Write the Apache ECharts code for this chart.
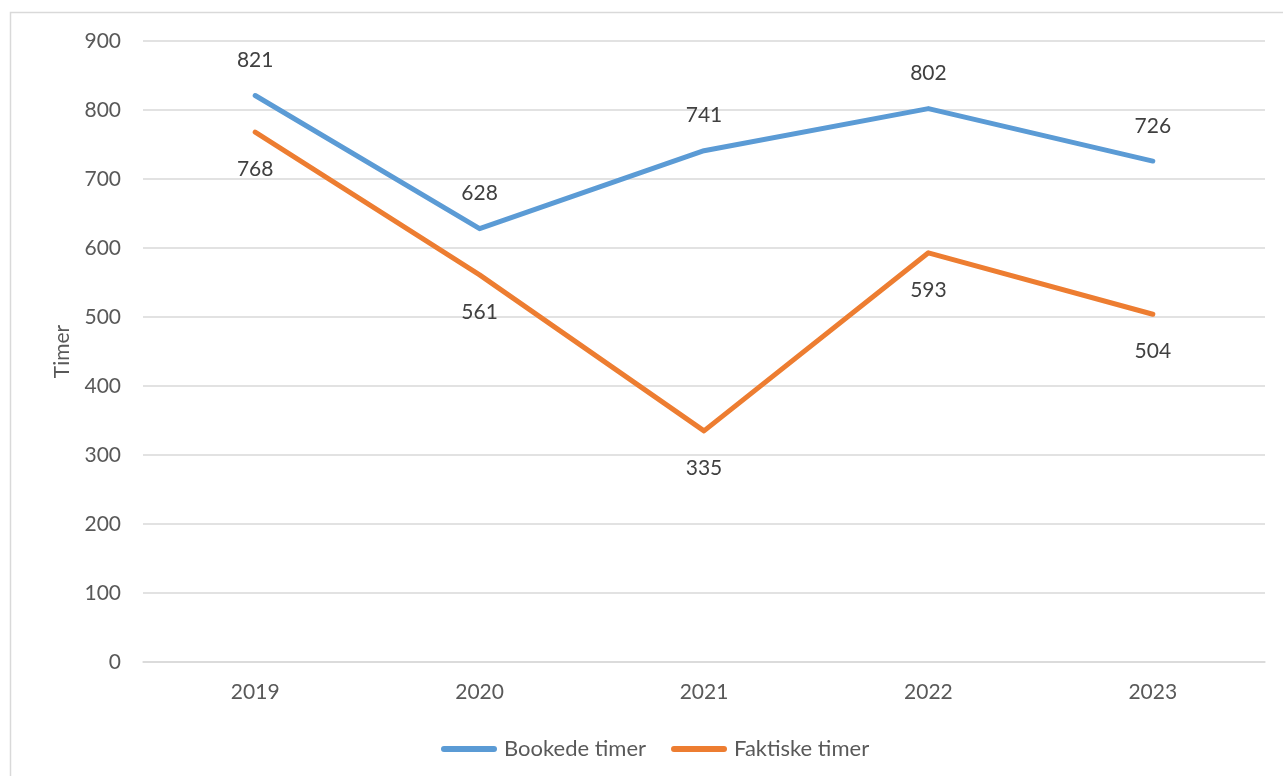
<!DOCTYPE html>
<html>
<head>
<meta charset="utf-8">
<script src="https://cdn.jsdelivr.net/npm/echarts@6/dist/echarts.min.js"></script>
<style>
  html, body { margin: 0; padding: 0; background: #fff; }
  #chart { width: 1283px; height: 776px; }
</style>
</head>
<body>
<div id="chart"></div>
<script>
var years = ["2019", "2020", "2021", "2022", "2023"];
var bookede = [821, 628, 741, 802, 726];
var faktiske = [768, 561, 335, 593, 504];

var myChart = echarts.init(document.getElementById("chart"));
var font = "Lato, 'Open Sans', sans-serif";
var lineIcon = "path://M3,0 L53,0 A3,3 0 0 1 53,6 L3,6 A3,3 0 0 1 3,0 Z";

var option = {
  animation: false,
  color: ["#5B9BD5", "#ED7D31"],
  textStyle: { fontFamily: font },
  // ramme rundt diagrammet
  graphic: [{
    type: "rect",
    shape: { x: 10.5, y: 12.5, width: 1300, height: 800 },
    style: { fill: "none", stroke: "#D9D9D9", lineWidth: 1.5 },
    silent: true
  }],
  grid: {
    left: 143,
    right: 18,
    top: 41,
    bottom: 114,
    containLabel: false
  },
  legend: {
    bottom: 11,
    left: 436,
    itemWidth: 56,
    itemHeight: 6,
    itemGap: 25,
    textStyle: { color: "#595959", fontSize: 22, fontFamily: font, padding: [0, 0, 0, 2] },
    data: [
      { name: "Bookede timer", icon: lineIcon },
      { name: "Faktiske timer", icon: lineIcon }
    ]
  },
  xAxis: {
    type: "category",
    data: years,
    boundaryGap: true,
    axisLine: { lineStyle: { color: "#D9D9D9", width: 1.5 } },
    axisTick: { show: false },
    axisLabel: { color: "#595959", fontSize: 21, margin: 20, fontFamily: font }
  },
  yAxis: {
    type: "value",
    min: 0,
    max: 900,
    interval: 100,
    name: "Timer",
    nameLocation: "middle",
    nameGap: 70,
    nameTextStyle: { color: "#595959", fontSize: 21, fontFamily: font },
    axisLine: { show: false },
    axisTick: { show: false },
    axisLabel: { color: "#595959", fontSize: 21, margin: 22, fontFamily: font },
    splitLine: { lineStyle: { color: "#D9D9D9", width: 1.5 } }
  },
  series: [{
    name: "Bookede timer",
    type: "line",
    data: bookede,
    symbol: "circle",
    symbolSize: 1,
    showSymbol: true,
    smooth: false,
    lineStyle: { width: 5, cap: "round", join: "round" },
    label: {
      show: true,
      position: "top",
      distance: 24,
      color: "#404040",
      fontSize: 21,
      fontFamily: font
    }
  }, {
    name: "Faktiske timer",
    type: "line",
    data: faktiske,
    symbol: "circle",
    symbolSize: 1,
    showSymbol: true,
    smooth: false,
    lineStyle: { width: 5, cap: "round", join: "round" },
    label: {
      show: true,
      position: "bottom",
      distance: 26,
      color: "#404040",
      fontSize: 21,
      fontFamily: font
    }
  }]
};

myChart.setOption(option);
</script>
</body>
</html>
